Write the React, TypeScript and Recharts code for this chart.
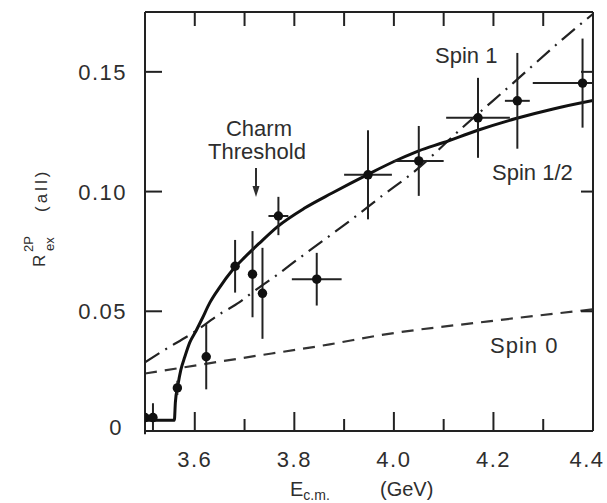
import React from 'react';
import { ComposedChart, Line, Scatter, XAxis, YAxis, ErrorBar, ZAxis } from 'recharts';

// ---- axis ticks ----
const xTicks = [3.6, 3.7, 3.8, 3.9, 4.0, 4.1, 4.2, 4.3, 4.4];
const xLabeledTicks = [3.6, 3.8, 4.0, 4.2, 4.4];
const xTickLabels = ['3.6', '3.8', '4.0', '4.2', '4.4'];
const yTicks = [0, 0.05, 0.1, 0.15];
const yTickLabels = ['0', '0.05', '0.10', '0.15'];

// ---- measurements ----
const measE = [3.5, 3.516, 3.565, 3.623, 3.681, 3.716, 3.736, 3.768, 3.845, 3.948, 4.05, 4.169, 4.248, 4.379];
const measR = [0.0056, 0.0056, 0.018, 0.031, 0.0688, 0.0655, 0.0575, 0.0898, 0.0634, 0.107, 0.1128, 0.1308, 0.1379, 0.1453];
const measRErr = [0.007, 0.006, 0.003, 0.0136, 0.011, 0.018, 0.019, 0.008, 0.011, 0.0186, 0.0146, 0.0167, 0.02, 0.0186];
const measEErr: (number | number[])[] = [0, 0, 0, 0, 0, 0, 0, 0.02, 0.05, 0.048, 0.05, 0.064, 0.025, [0.1, 0.021]];

// ---- model curves ----
const spinHalfE = [3.5, 3.559, 3.561, 3.566, 3.572, 3.58, 3.59, 3.603, 3.615, 3.63, 3.65, 3.675, 3.7, 3.73, 3.767, 3.82, 3.876, 3.946, 4.01, 4.05, 4.1, 4.167, 4.245, 4.32, 4.4];
const spinHalfR = [0.0045, 0.0045, 0.012, 0.019, 0.0255, 0.031, 0.037, 0.042, 0.047, 0.0535, 0.06, 0.067, 0.0725, 0.0785, 0.0855, 0.093, 0.0994, 0.107, 0.1135, 0.117, 0.1205, 0.1255, 0.1305, 0.1345, 0.138];

const spinOneE = [3.5, 3.538, 3.595, 3.653, 3.69, 3.713, 3.764, 3.81, 3.921, 3.978, 4.036, 4.137, 4.24, 4.341, 4.4];
const spinOneR = [0.0287, 0.0337, 0.0408, 0.0492, 0.0538, 0.0575, 0.065, 0.0722, 0.0893, 0.0985, 0.1075, 0.1266, 0.1454, 0.164, 0.1742];

const spinZeroE = [3.5, 3.69, 3.871, 3.972, 4.19, 4.4];
const spinZeroR = [0.024, 0.0303, 0.0362, 0.04, 0.0458, 0.0508];

const measData = measE.map((e, i) => ({ E: e, R: measR[i], ey: measRErr[i], ex: measEErr[i] }));
const spinHalfData = spinHalfE.map((e, i) => ({ E: e, R: spinHalfR[i] }));
const spinOneData = spinOneE.map((e, i) => ({ E: e, R: spinOneR[i] }));
const spinZeroData = spinZeroE.map((e, i) => ({ E: e, R: spinZeroR[i] }));

const W = 607;
const H = 503;
const MARGIN = { top: 11, right: 13, bottom: 71, left: 144 };
const INK = '#222';
const TXT = '#2e2e2e';
const FONT = '"Liberation Sans", Arial, sans-serif';

const near = (a: number, b: number) => Math.abs(a - b) < 1e-6;

const BottomTick = (props: any) => {
  const { x, y, payload } = props;
  const v = payload.value as number;
  const idx = xLabeledTicks.findIndex((t) => near(t, v));
  const major = idx >= 0;
  const edge = near(v, 4.4);
  return (
    <g>
      {!edge && <line x1={x} x2={x} y1={y} y2={y - (major ? 19 : 12)} stroke={INK} strokeWidth={2} />}
      {major && (
        <text x={edge ? x - 6 : x} y={y + 36} textAnchor="middle" fontFamily={FONT} fontSize={22} letterSpacing={1.5} fill={TXT}>
          {xTickLabels[idx]}
        </text>
      )}
    </g>
  );
};

const TopTick = (props: any) => {
  const { x, y, payload } = props;
  const v = payload.value as number;
  if (near(v, 4.4)) return <g />;
  return <line x1={x} x2={x} y1={y} y2={y + 14} stroke={INK} strokeWidth={2} />;
};

const LeftTick = (props: any) => {
  const { x, y, payload } = props;
  const v = payload.value as number;
  const idx = yTicks.findIndex((t) => near(t, v));
  const zero = near(v, 0);
  return (
    <g>
      {!zero && <line x1={x} x2={x + 17} y1={y} y2={y} stroke={INK} strokeWidth={2} />}
      <text x={zero ? x - 22 : x - 18} y={zero ? y + 4 : y + 8} textAnchor="end" fontFamily={FONT} fontSize={22} letterSpacing={1.5} fill={TXT}>
        {yTickLabels[idx]}
      </text>
    </g>
  );
};

const RightTick = (props: any) => {
  const { x, y, payload } = props;
  const v = payload.value as number;
  if (near(v, 0)) return <g />;
  return <line x1={x} x2={x - 12} y1={y} y2={y} stroke={INK} strokeWidth={2} />;
};

export default function App() {
  return (
    <div style={{ position: 'absolute', left: 0, top: 0, width: W, height: H, background: '#fff' }}>
      <ComposedChart width={W} height={H} margin={MARGIN}>
        <XAxis
          dataKey="E"
          type="number"
          domain={[3.5, 4.4]}
          allowDataOverflow
          ticks={xTicks}
          interval={0}
          height={1}
          tickSize={0}
          tickMargin={0}
          tickLine={false}
          tick={BottomTick}
          axisLine={{ stroke: INK, strokeWidth: 2 }}
        />
        <XAxis
          xAxisId="top"
          orientation="top"
          dataKey="E"
          type="number"
          domain={[3.5, 4.4]}
          allowDataOverflow
          ticks={xTicks}
          interval={0}
          height={1}
          tickSize={0}
          tickMargin={0}
          tickLine={false}
          tick={TopTick}
          axisLine={{ stroke: INK, strokeWidth: 2 }}
        />
        <YAxis
          dataKey="R"
          type="number"
          domain={[0, 0.175]}
          allowDataOverflow
          ticks={yTicks}
          interval={0}
          width={1}
          tickSize={0}
          tickMargin={0}
          tickLine={false}
          tick={LeftTick}
          axisLine={{ stroke: INK, strokeWidth: 2 }}
        />
        <YAxis
          yAxisId="right"
          orientation="right"
          type="number"
          domain={[0, 0.175]}
          allowDataOverflow
          ticks={yTicks}
          interval={0}
          width={1}
          tickSize={0}
          tickMargin={0}
          tickLine={false}
          tick={RightTick}
          axisLine={{ stroke: INK, strokeWidth: 2 }}
        />
        <ZAxis range={[70, 70]} />
        <Line data={spinZeroData} dataKey="R" type="monotone" stroke="#333" strokeWidth={2.2} strokeDasharray="12 8" dot={false} isAnimationActive={false} />
        <Line data={spinOneData} dataKey="R" type="monotone" stroke="#222" strokeWidth={2.2} strokeDasharray="17 7 2 7" dot={false} isAnimationActive={false} />
        <Line data={spinHalfData} dataKey="R" type="monotone" stroke="#111" strokeWidth={3} dot={false} isAnimationActive={false} />
        <Scatter data={measData} dataKey="R" fill="#111" shape="circle" isAnimationActive={false}>
          <ErrorBar dataKey="ey" direction="y" width={0} stroke="#222" strokeWidth={2} />
          <ErrorBar dataKey="ex" direction="x" width={0} stroke="#222" strokeWidth={2} />
        </Scatter>
      </ComposedChart>
      <svg width={W} height={H} style={{ position: 'absolute', left: 0, top: 0, pointerEvents: 'none' }}>
        <g fontFamily={FONT} fill={TXT}>
          <text x={435} y={63} fontSize={22}>Spin 1</text>
          <text x={492} y={180} fontSize={22}>Spin 1/2</text>
          <text x={490} y={353} fontSize={22} letterSpacing={1}>Spin 0</text>
          <text x={259} y={136} fontSize={22} textAnchor="middle">Charm</text>
          <text x={257} y={159} fontSize={22} textAnchor="middle">Threshold</text>
          <line x1={256} x2={256} y1={168} y2={188} stroke={TXT} strokeWidth={2} />
          <polygon points="252.5,186 259.5,186 256,197" fill={TXT} />
          <text x={290} y={496} fontSize={20}>
            E
            <tspan fontSize={14} dy={4}>c.m.</tspan>
            <tspan x={380} dy={-4} fontSize={20}>(GeV)</tspan>
          </text>
          <g transform="translate(45,267) rotate(-90)">
            <text x={0} y={0} fontSize={17}>R</text>
            <text x={15} y={-12} fontSize={13}>2P</text>
            <text x={16} y={9} fontSize={13}>ex</text>
            <text x={55} y={2} fontSize={17} letterSpacing={3}>(all)</text>
          </g>
        </g>
      </svg>
    </div>
  );
}
